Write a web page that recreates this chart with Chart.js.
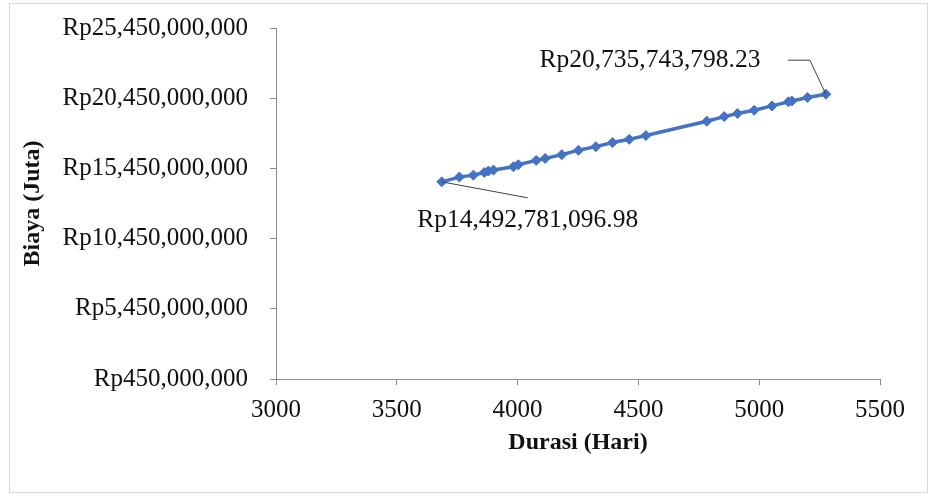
<!DOCTYPE html>
<html>
<head>
<meta charset="utf-8">
<script src="https://cdn.jsdelivr.net/npm/chart.js@4/dist/chart.umd.min.js"></script>
<style>
  html, body { margin: 0; padding: 0; background: #fff; }
  #wrap { position: relative; width: 930px; height: 495px; }
</style>
</head>
<body>
<div id="wrap"><canvas id="chart" width="930" height="495"></canvas></div>
<script>
// durasi proyek (hari) vs biaya total
const durasi = [3686, 3759, 3817, 3862, 3879, 3900, 3983, 4003, 4077, 4114, 4183, 4252, 4324,
  4393, 4462, 4531, 4783, 4855, 4910, 4979, 5053, 5121, 5135, 5200, 5276];
const biaya = [14492781096.98, 14830000000, 14970000000, 15160000000, 15260000000, 15330000000,
  15570000000, 15710000000, 16020000000, 16160000000, 16430000000, 16740000000, 17000000000,
  17290000000, 17520000000, 17790000000, 18810000000, 19140000000, 19360000000, 19590000000,
  19900000000, 20190000000, 20250000000, 20500000000, 20735743798.23];

const xTicks = [3000, 3500, 4000, 4500, 5000, 5500];
const yTicks = [450000000, 5450000000, 10450000000, 15450000000, 20450000000, 25450000000];

const FONT = "'Liberation Serif', 'Times New Roman', serif";
const BLUE = "#4472C4";
const AXIS = "#8c8c8c";

const rupiah = (v, dec) =>
  "Rp" + v.toLocaleString("en-US", { minimumFractionDigits: dec, maximumFractionDigits: dec });

// white card with thin grey frame
const frame = {
  id: "frame",
  beforeDraw(chart) {
    const { ctx } = chart;
    ctx.save();
    ctx.fillStyle = "#fff";
    ctx.fillRect(0, 0, chart.width, chart.height);
    ctx.strokeStyle = "#d9d9d9";
    ctx.lineWidth = 1;
    ctx.strokeRect(9.5, 3.5, 918, 489);
    ctx.restore();
  },
};

// min / max callouts with leader lines
const callouts = {
  id: "callouts",
  afterDatasetsDraw(chart) {
    const { ctx } = chart;
    const pts = chart.getDatasetMeta(0).data;
    const first = pts[0];
    const last = pts[pts.length - 1];
    ctx.save();
    ctx.strokeStyle = "#404040";
    ctx.lineWidth = 1;
    ctx.beginPath();
    ctx.moveTo(first.x, first.y);
    ctx.lineTo(first.x + 86, first.y + 16);
    ctx.moveTo(last.x - 38, last.y - 34);
    ctx.lineTo(last.x - 16, last.y - 34);
    ctx.lineTo(last.x, last.y);
    ctx.stroke();

    ctx.fillStyle = "#111";
    ctx.font = "25.5px " + FONT;
    ctx.textAlign = "center";
    ctx.textBaseline = "middle";
    ctx.fillText(rupiah(biaya[0], 2), first.x + 86, first.y + 38);
    ctx.fillText(rupiah(biaya[biaya.length - 1], 2), last.x - 176, last.y - 34);
    ctx.restore();
  },
};

new Chart(document.getElementById("chart"), {
  type: "line",
  data: {
    datasets: [
      {
        data: durasi.map((d, i) => ({ x: d, y: biaya[i] })),
        borderColor: BLUE,
        backgroundColor: BLUE,
        borderWidth: 3.5,
        pointStyle: "rectRot",
        pointRadius: 5,
        pointBorderWidth: 1,
        tension: 0,
      },
    ],
  },
  options: {
    responsive: false,
    animation: false,
    events: [],
    layout: { padding: { left: 0, right: 50, top: 28, bottom: 0 } },
    plugins: { legend: { display: false }, tooltip: { enabled: false } },
    scales: {
      x: {
        type: "linear",
        min: xTicks[0],
        max: xTicks[xTicks.length - 1],
        afterBuildTicks: s => { s.ticks = xTicks.map(v => ({ value: v })); },
        afterFit: s => { s.height = 116; },
        grid: { drawOnChartArea: false, drawTicks: true, tickLength: 6, color: AXIS },
        border: { display: true, color: AXIS },
        ticks: {
          color: "#111",
          padding: 10,
          maxRotation: 0,
          font: { family: FONT, size: 25 },
          callback: v => String(v),
        },
        title: {
          display: true,
          text: "Durasi (Hari)",
          color: "#111",
          font: { family: FONT, size: 24, weight: "bold" },
          padding: { top: 0, bottom: 38 },
        },
      },
      y: {
        type: "linear",
        min: yTicks[0],
        max: yTicks[yTicks.length - 1],
        afterBuildTicks: s => { s.ticks = yTicks.map(v => ({ value: v })); },
        afterFit: s => {
          // the label gap would otherwise also push the plot down from the top
          s.width = 276;
          s.paddingTop = 14;
          s.paddingBottom = 14;
        },
        grid: { drawOnChartArea: false, drawTicks: true, tickLength: 6, color: AXIS },
        border: { display: true, color: AXIS },
        ticks: {
          color: "#111",
          padding: 22,
          font: { family: FONT, size: 25 },
          callback: v => rupiah(v, 0),
        },
        title: {
          display: true,
          text: "Biaya (Juta)",
          color: "#111",
          font: { family: FONT, size: 24, weight: "bold" },
          padding: { top: 18, bottom: 0 },
        },
      },
    },
  },
  plugins: [frame, callouts],
});
</script>
</body>
</html>
